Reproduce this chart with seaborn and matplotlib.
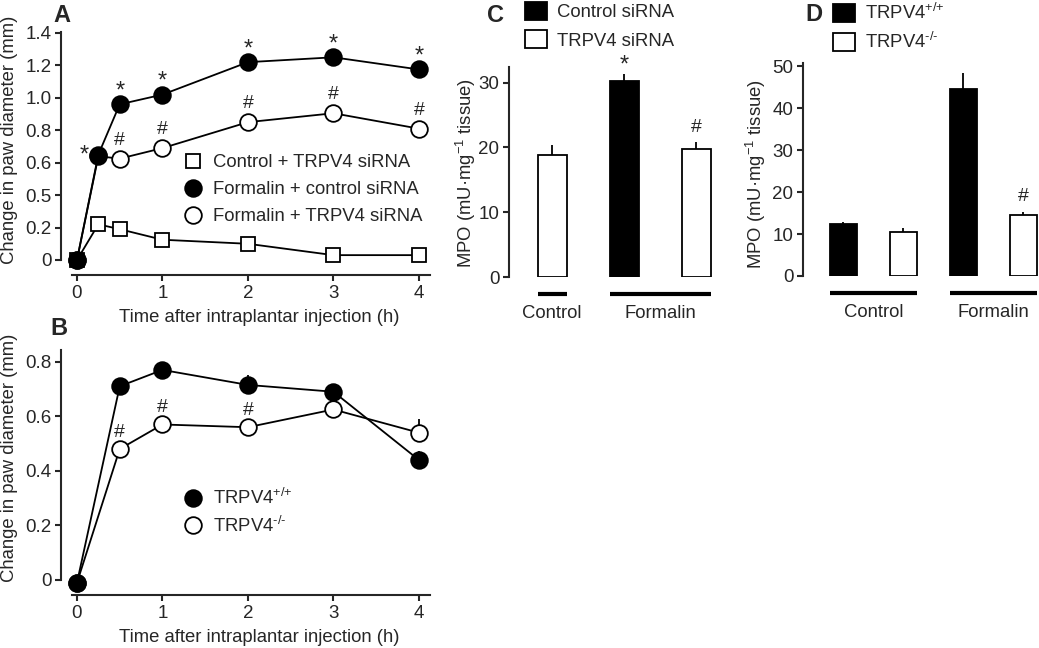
import matplotlib
matplotlib.use("Agg")
import numpy as np
import pandas as pd
import seaborn as sns
import matplotlib.pyplot as plt
import matplotlib.transforms as mtrans
from matplotlib.lines import Line2D
from matplotlib.patches import Patch

# Panel A: paw diameter after formalin, siRNA groups
times_a = [0, 0.25, 0.5, 1, 2, 3, 4]
control_trpv4_sirna = [0, 0.22, 0.19, 0.125, 0.10, 0.03, 0.03]
formalin_control_sirna = [0, 0.65, 0.96, 1.02, 1.22, 1.25, 1.175]
formalin_trpv4_sirna = [0, 0.64, 0.625, 0.69, 0.85, 0.905, 0.81]
star_idx_a = [1, 2, 3, 4, 5, 6]
hash_idx_a = [2, 3, 4, 5, 6]
yticks_a = [0, 0.2, 0.4, 0.6, 0.8, 1.0, 1.2, 1.4]
yticklabels_a = ["0", "0.2", "0.5", "0.6", "0.8", "1.0", "1.2", "1.4"]

# Panel B: paw diameter, knockout mice
times_b = [0, 0.5, 1, 2, 3, 4]
trpv4_wt = [-0.01, 0.71, 0.77, 0.715, 0.69, 0.44]
trpv4_wt_sem = [0, 0, 0, 0.035, 0, 0.033]
trpv4_ko = [-0.01, 0.48, 0.57, 0.56, 0.625, 0.54]
trpv4_ko_sem = [0, 0, 0, 0, 0.035, 0.05]
hash_idx_b = [1, 2, 3]
yticks_b = [0, 0.2, 0.4, 0.6, 0.8]

# Panel C: MPO, siRNA
groups_c = ["Control", "Formalin", "Formalin"]
treat_c = ["TRPV4 siRNA", "Control siRNA", "TRPV4 siRNA"]
mpo_c = [18.9, 30.3, 19.7]
mpo_c_sem = [1.4, 1.0, 1.1]
marks_c = ["", "*", "#"]

# Panel D: MPO, knockout
WT = "TRPV4$^{{+}/{+}}$"
KO = "TRPV4$^{\u2010/\u2010}$"
groups_d = ["Control", "Control", "Formalin", "Formalin"]
geno_d = [WT, KO, WT, KO]
mpo_d = [12.4, 10.5, 44.6, 14.5]
mpo_d_sem = [0.5, 1.0, 3.8, 0.8]
marks_d = ["", "", "", "#"]

sns.set_style("ticks")
plt.rcParams["font.family"] = ["Liberation Sans", "DejaVu Sans"]
plt.rcParams["mathtext.fontset"] = "custom"
plt.rcParams["mathtext.rm"] = "Liberation Sans"
plt.rcParams["mathtext.default"] = "regular"
plt.rcParams["font.size"] = 13
plt.rcParams["axes.linewidth"] = 1.5

W, H = 1039, 648
fig = plt.figure(figsize=(W / 100, H / 100), dpi=100)


def px_axes(left, top, right, bottom):
    return fig.add_axes([left / W, 1 - bottom / H, (right - left) / W, (bottom - top) / H])


axA = px_axes(61, 32, 430, 275)
axB = px_axes(61, 350, 430, 595)
axC = px_axes(509, 67, 718, 277)
axD = px_axes(803, 63, 1039, 276)

line_kw = dict(color="black", lw=1.3, markeredgecolor="black", markeredgewidth=1.3,
               clip_on=False, legend=False)

# ---- A ----
sns.lineplot(x=times_a, y=control_trpv4_sirna, ax=axA, marker="s", markersize=10,
             markerfacecolor="white", zorder=3, **line_kw)
sns.lineplot(x=times_a, y=formalin_trpv4_sirna, ax=axA, marker="o", markersize=12,
             markerfacecolor="white", zorder=4, **line_kw)
sns.lineplot(x=times_a, y=formalin_control_sirna, ax=axA, marker="o", markersize=12,
             markerfacecolor="black", zorder=5, **line_kw)
for i in star_idx_a:
    off = (-10, -5) if i == 1 else (0, 5)
    axA.annotate("*", (times_a[i], formalin_control_sirna[i]), xytext=off,
                 textcoords="offset points", ha="center", va="baseline", fontsize=17)
for i in hash_idx_a:
    axA.annotate("#", (times_a[i], formalin_trpv4_sirna[i]), xytext=(0, 10),
                 textcoords="offset points", ha="center", va="baseline", fontsize=14)

axA.set_xlim(-0.187, 4.13)
axA.set_ylim(-0.0925, 1.406)
axA.set_yticks(yticks_a)
axA.set_yticklabels(yticklabels_a)
axA.set_xticks([0, 1, 2, 3, 4])
axA.spines["left"].set_bounds(0, 1.406)
axA.spines["bottom"].set_bounds(-0.062, 4.13)
axA.set_ylabel("Change in paw diameter (mm)")
axA.set_xlabel("Time after intraplantar injection (h)")
axA.yaxis.set_label_coords(-0.117, 0.556)
axA.xaxis.set_label_coords(0.537, -0.14)
axA.legend(handles=[
    Line2D([], [], marker="s", ls="None", color="black", mfc="white", ms=10, mew=1.3),
    Line2D([], [], marker="o", ls="None", color="black", mfc="black", ms=12, mew=1.3),
    Line2D([], [], marker="o", ls="None", color="black", mfc="white", ms=12, mew=1.3)],
    labels=["Control + TRPV4 siRNA", "Formalin + control siRNA", "Formalin + TRPV4 siRNA"],
    loc="upper left", bbox_to_anchor=(184 / W, 1 - 154 / H), bbox_transform=fig.transFigure,
    frameon=False, borderpad=0, borderaxespad=0, handlelength=1.0, handletextpad=0.55,
    labelspacing=0.55, fontsize=13.3)

# ---- B ----
axB.errorbar(times_b, trpv4_ko, yerr=[np.zeros(len(times_b)), trpv4_ko_sem], fmt="none",
             ecolor="black", elinewidth=1.3, capsize=0, zorder=2, clip_on=False)
axB.errorbar(times_b, trpv4_wt, yerr=[np.zeros(len(times_b)), trpv4_wt_sem], fmt="none",
             ecolor="black", elinewidth=1.3, capsize=0, zorder=2, clip_on=False)
sns.lineplot(x=times_b, y=trpv4_ko, ax=axB, marker="o", markersize=12,
             markerfacecolor="white", zorder=4, **line_kw)
sns.lineplot(x=times_b, y=trpv4_wt, ax=axB, marker="o", markersize=12,
             markerfacecolor="black", zorder=5, **line_kw)
for i in hash_idx_b:
    axB.annotate("#", (times_b[i], trpv4_ko[i]), xytext=(0, 9),
                 textcoords="offset points", ha="center", va="baseline", fontsize=14)

axB.set_xlim(-0.187, 4.13)
axB.set_ylim(-0.055, 0.843)
axB.set_yticks(yticks_b)
axB.set_yticklabels(["0", "0.2", "0.4", "0.6", "0.8"])
axB.set_xticks([0, 1, 2, 3, 4])
axB.spines["left"].set_bounds(0, 0.843)
axB.spines["bottom"].set_bounds(-0.062, 4.13)
axB.set_ylabel("Change in paw diameter (mm)")
axB.set_xlabel("Time after intraplantar injection (h)")
axB.yaxis.set_label_coords(-0.117, 0.559)
axB.xaxis.set_label_coords(0.537, -0.139)
axB.legend(handles=[
    Line2D([], [], marker="o", ls="None", color="black", mfc="black", ms=12, mew=1.3),
    Line2D([], [], marker="o", ls="None", color="black", mfc="white", ms=12, mew=1.3)],
    labels=[WT, KO],
    loc="upper left", bbox_to_anchor=(184 / W, 1 - 488 / H), bbox_transform=fig.transFigure,
    frameon=False, borderpad=0, borderaxespad=0, handlelength=1.0, handletextpad=0.55,
    labelspacing=0.4, fontsize=13.3)

for ax in (axA, axB):
    sns.despine(ax=ax)
    ax.tick_params(direction="out", length=4, width=1.5, labelsize=13.5, pad=3)
    ax.xaxis.label.set_size(13.3)
    ax.yaxis.label.set_size(13.3)


# ---- C and D: bar charts ----
def bar_panel(ax, groups, hue_vals, vals, sems, marks, palette, width, xlim, ylim, yticks):
    df = pd.DataFrame({"bar": [f"{g} {h}" for g, h in zip(groups, hue_vals)],
                       "hue": hue_vals, "mpo": vals})
    sns.barplot(data=df, x="bar", y="mpo", hue="hue", palette=palette, dodge=False,
                width=width, edgecolor="black", linewidth=1.3, errorbar=None,
                legend=False, ax=ax)
    pos = np.arange(len(vals))
    ax.errorbar(pos, vals, yerr=[np.zeros(len(vals)), sems], fmt="none", ecolor="black",
                elinewidth=1.3, capsize=0, zorder=3)
    for p, v, s, m in zip(pos, vals, sems, marks):
        if m:
            ax.annotate(m, (p, v + s), xytext=(0, 2 if m == "*" else 7.5),
                        textcoords="offset points", ha="center", va="baseline",
                        fontsize=17 if m == "*" else 14)
    trans = mtrans.blended_transform_factory(ax.transData, ax.transAxes)
    for g in dict.fromkeys(groups):
        idx = [i for i, gg in enumerate(groups) if gg == g]
        ax.plot([idx[0] - width / 2, idx[-1] + width / 2], [-0.079, -0.079], transform=trans,
                color="black", lw=3, clip_on=False, solid_capstyle="butt")
        ax.text(np.mean(idx), -0.172, g, transform=trans, ha="center", va="center",
                fontsize=13.3)
    ax.set_xlim(*xlim)
    ax.set_ylim(*ylim)
    ax.set_yticks(yticks)
    ax.set_xticks([])
    ax.set_xlabel("")
    ax.set_ylabel("MPO (mU\u00b7mg$^{-1}$ tissue)", fontsize=13.3)
    sns.despine(ax=ax, bottom=True)
    ax.tick_params(axis="y", direction="out", length=4, width=1.5, labelsize=13.5, pad=3)


bar_panel(axC, groups_c, treat_c, mpo_c, mpo_c_sem, marks_c,
          {"Control siRNA": "black", "TRPV4 siRNA": "white"}, 0.4,
          (-0.6, 2.3), (0, 32.4), [0, 10, 20, 30])
axC.yaxis.set_label_coords(-0.148, 0.494)

bar_panel(axD, groups_d, geno_d, mpo_d, mpo_d_sem, marks_d,
          {WT: "black", KO: "white"}, 0.45,
          (-0.67, 3.26), (0, 50.8), [0, 10, 20, 30, 40, 50])
axD.yaxis.set_label_coords(-0.15, 0.479)

bar_leg_kw = dict(loc="upper left", frameon=False, borderpad=0, borderaxespad=0,
                  handlelength=1.2, handleheight=1.1, handletextpad=0.55, labelspacing=0.5,
                  fontsize=13.3)
fig.legend(handles=[Patch(facecolor="black", edgecolor="black", lw=1.3),
                    Patch(facecolor="white", edgecolor="black", lw=1.3)],
           labels=["Control siRNA", "TRPV4 siRNA"],
           bbox_to_anchor=(525 / W, 1 - 2 / H), **bar_leg_kw)
fig.legend(handles=[Patch(facecolor="black", edgecolor="black", lw=1.3),
                    Patch(facecolor="white", edgecolor="black", lw=1.3)],
           labels=[WT, KO],
           bbox_to_anchor=(833 / W, 1 - 3 / H), **bar_leg_kw)

# panel letters
for letter, x, y in [("A", 53, 22), ("B", 50, 335), ("C", 487, 22), ("D", 805, 21)]:
    fig.text(x / W, 1 - y / H, letter, fontsize=17, fontweight="bold", va="baseline")

fig.savefig("out.png", dpi=100)
